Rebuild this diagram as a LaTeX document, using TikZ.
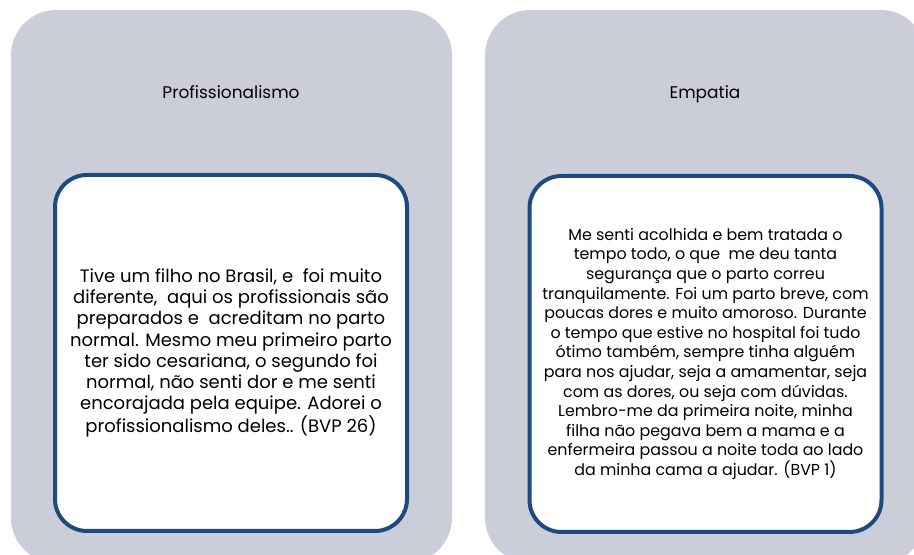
\documentclass[tikz,border=0pt]{standalone}
\usepackage{fontspec}
\setmainfont{Poppins}
\definecolor{corpainel}{RGB}{203,206,216}
\definecolor{corazul}{RGB}{31,74,126}
\tikzset{
  painel/.style={fill=corpainel,rounded corners=34pt},
  titulo/.style={font=\fontsize{12.7}{15}\selectfont,anchor=base},
  caixa/.style={draw=corazul,line width=3pt,fill=white,rounded corners=24pt,
    minimum width=264pt,minimum height=267pt,align=center,inner sep=0pt}
}
\begin{document}
\begin{tikzpicture}[x=0.75pt,y=-0.75pt]
\useasboundingbox (0,0) rectangle (914,555);
\def\w{441}
% paineis de fundo
\path[painel] (11,10) rectangle ++(\w,553);
\path[painel] (485,10) rectangle ++(\w,553);
% titulos
\node[titulo] (tprof) at (231,99) {Profissionalismo};
\node[titulo] (temp) at (705,99) {Empatia};
% caixas de texto
\node[caixa,font=\fontsize{13.5}{15.9}\selectfont] (cprof) at (231,353) {%
Tive um filho no Brasil, e\ \ foi muito\\
diferente,\ \ aqui os profissionais são\\
preparados e\ \ acreditam no parto\\
normal. Mesmo meu primeiro parto\\
ter sido cesariana, o segundo foi\\
normal, não senti dor e me senti\\
encorajada pela equipe. Adorei o\\
profissionalismo deles.. (BVP 26)};
\node[caixa,font=\fontsize{11.9}{14.7}\selectfont] (cemp) at (705.5,354) {%
Me senti acolhida e bem tratada o\\
tempo todo, o que\ \ me deu tanta\\
segurança que o parto correu\\
tranquilamente. Foi um parto breve, com\\
poucas dores e muito amoroso. Durante\\
o tempo que estive no hospital foi tudo\\
ótimo também, sempre tinha alguém\\
para nos ajudar, seja a amamentar, seja\\
com as dores, ou seja com dúvidas.\\
Lembro-me da primeira noite, minha\\
filha não pegava bem a mama e a\\
enfermeira passou a noite toda ao lado\\
da minha cama a ajudar. (BVP 1)};
\end{tikzpicture}
\end{document}
